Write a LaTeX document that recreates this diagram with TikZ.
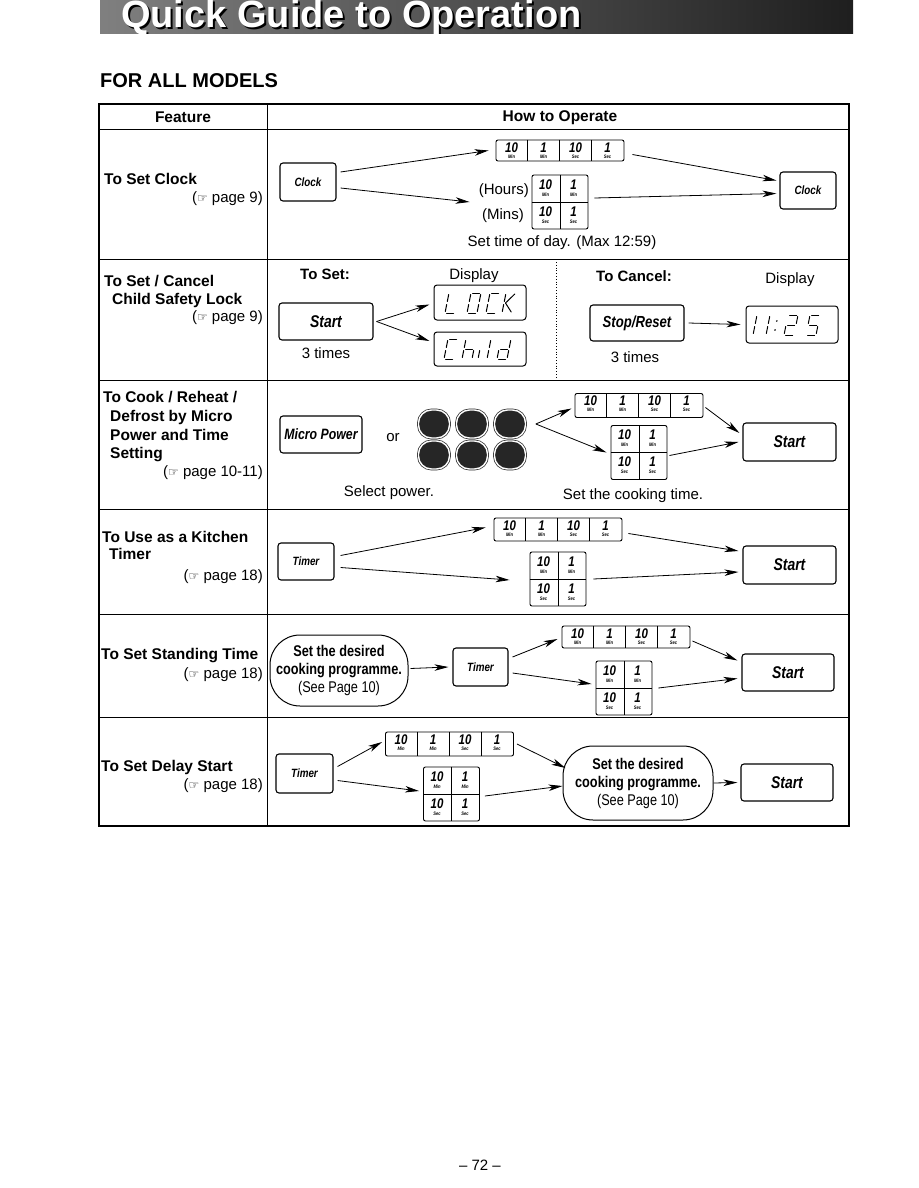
\documentclass[tikz,border=0pt]{standalone}
\usepackage{fontspec}
\setmainfont{Liberation Sans}
\newfontfamily\cond[FakeStretch=0.82]{Liberation Sans}
\newfontfamily\symf{DejaVu Sans}
\usetikzlibrary{arrows.meta,calc}
\newcommand\btnf[1]{\cond\bfseries\itshape\fontsize{#1}{#1}\selectfont}
\newcommand\pg{{\symf\fontsize{12}{12}\selectfont ☞}}
\newcommand\fourcell[4]{% name, cx, cy, height
  \node[cellbox, minimum width=128pt, minimum height=#4pt] (#1) at (#2,#3) {};
  \foreach \k in {1,2,3} \draw[celldiv] ($(#1.north west)+(32*\k,0)$) -- ($(#1.south west)+(32*\k,0)$);
  \foreach \n/\l [count=\k] in {10/Min,1/Min,10/Sec,1/Sec} {
    \node[dig] (#1-d\k) at ($(#1.north west)+(32*\k-16,8)$) {\n};
    \node[lab] (#1-l\k) at ($(#1.north west)+(32*\k-16,17)$) {\l};
  }
}
\newcommand\twocell[3]{% name, cx, cy
  \node[cellbox, minimum width=56pt, minimum height=54pt] (#1) at (#2,#3) {};
  \draw[celldiv] (#1.north) -- (#1.south);
  \draw[celldiv] (#1.west) -- (#1.east);
  \foreach \n/\l/\cx/\cy [count=\k] in {10/Min/14/10,1/Min/42/10,10/Sec/14/37,1/Sec/42/37} {
    \node[dig] (#1-d\k) at ($(#1.north west)+(\cx,\cy)$) {\n};
    \node[lab] (#1-l\k) at ($(#1.north west)+(\cx,\cy+10)$) {\l};
  }
}
\newcommand\sevseg[3]{% x, baseline y, segments
  \begin{scope}[shift={(#1,#2)}, xslant=0.2]
    \foreach \s in {#3}{%
      \if a\s \draw[segl] (1.5,-20)--(8.5,-20);\fi
      \if b\s \draw[segl] (10,-18.5)--(10,-11.5);\fi
      \if c\s \draw[segl] (10,-8.5)--(10,-1.5);\fi
      \if d\s \draw[segl] (1.5,0)--(8.5,0);\fi
      \if e\s \draw[segl] (0,-8.5)--(0,-1.5);\fi
      \if f\s \draw[segl] (0,-18.5)--(0,-11.5);\fi
      \if g\s \draw[segl] (1.5,-10)--(8.5,-10);\fi
      \if u\s \draw[segl] (1.5,-10)--(9,-19);\fi
      \if v\s \draw[segl] (1.5,-10)--(9,-1);\fi
      \if p\s \fill (2,-5) circle (0.9); \fill (2,-14) circle (0.9);\fi
    }
  \end{scope}}
\begin{document}
\begin{tikzpicture}[x=1pt,y=-1pt,
  titlef/.style={anchor=base west, inner sep=0, font=\fontsize{38}{38}\selectfont\bfseries},
  hdr/.style={inner sep=0, font=\fontsize{15.5}{18}\selectfont\bfseries},
  feat/.style={anchor=base west, inner sep=0, font=\fontsize{15.5}{18}\selectfont\bfseries},
  pref/.style={anchor=base east, inner sep=0, font=\fontsize{15}{18}\selectfont},
  body/.style={inner sep=0, font=\fontsize{15}{18}\selectfont},
  bodyb/.style={inner sep=0, font=\fontsize{15}{18}\selectfont\bfseries},
  btn/.style={draw, line width=1.1pt, rounded corners=3pt, inner sep=0pt},
  cellbox/.style={draw, line width=0.9pt, rounded corners=2pt, inner sep=0pt},
  celldiv/.style={line width=0.6pt},
  dig/.style={inner sep=0, font=\btnf{14}},
  lab/.style={inner sep=0, font=\btnf{5}},
  arr/.style={line width=0.8pt, -{Stealth[length=14pt,width=6.5pt,inset=4pt]}},
  segl/.style={line width=1pt, line cap=round},
  disp/.style={draw, line width=1pt, rounded corners=3pt, inner sep=0},
  ovl/.style={draw, line width=1pt, rounded corners=30pt, inner sep=0, align=center,
    font=\cond\fontsize{15.5}{18}\selectfont},
  dark/.style={draw=black!85, fill=black!85, line width=0.7pt, double=white, double distance=1.4pt,
    rounded corners=13pt, minimum width=31pt, minimum height=28pt, inner sep=0}
]
\useasboundingbox (0,0) rectangle (918,1188);

% ---------- banner ----------
\begin{scope}
  \clip (100,0) rectangle (853,34);
  \shade[left color=black!50, middle color=black!62, right color=black!88] (100,0) rectangle (853,34);
  \node[titlef, text=black] (tshadow) at (123,30) {Quick Guide to Operation};
  \node[titlef, text=white] (title) at (121,28) {Quick Guide to Operation};
\end{scope}

\node[anchor=base west, inner sep=0, font=\fontsize{20}{20}\selectfont\bfseries] (models) at (100,88) {FOR ALL MODELS};

% ---------- table ----------
\draw[line width=1.3pt] (99,104) rectangle (849,826);
\draw[line width=1pt] (267,104) -- (267,826);
\foreach \yy in {130,259,380,509,614,717} \draw[line width=1pt] (99,\yy) -- (849,\yy);

\node[hdr] (hfeat) at (183,117) {Feature};
\node[hdr] (hhow) at (560,118) {How to Operate};

% feature column
\node[feat] (f1) at (104,184) {To Set Clock};
\node[pref] (r1) at (263,202) {(\pg\ page 9)};
\node[feat] (f2a) at (104,286) {To Set / Cancel};
\node[feat] (f2b) at (112,304) {Child Safety Lock};
\node[pref] (r2) at (263,321) {(\pg\ page 9)};
\node[feat] (f3a) at (103,402) {To Cook / Reheat /};
\node[feat] (f3b) at (110,421) {Defrost by Micro};
\node[feat] (f3c) at (110,440) {Power and Time};
\node[feat] (f3d) at (110,458) {Setting};
\node[pref] (r3) at (263,476) {(\pg\ page 10-11)};
\node[feat] (f4a) at (102,542) {To Use as a Kitchen};
\node[feat] (f4b) at (109,559) {Timer};
\node[pref] (r4) at (263,580) {(\pg\ page 18)};
\node[feat] (f5) at (101,659) {To Set Standing Time};
\node[pref] (r5) at (263,678) {(\pg\ page 18)};
\node[feat] (f6) at (101,771) {To Set Delay Start};
\node[pref] (r6) at (263,789) {(\pg\ page 18)};

% ---------- row 1 : clock ----------
\node[btn, minimum width=56pt, minimum height=38pt, font=\btnf{12}] (clockA) at (308,182) {Clock};
\fourcell{top4a}{560}{150.5}{21}
\twocell{grid2a}{560}{202}
\node[btn, minimum width=56pt, minimum height=37pt, font=\btnf{12}] (clockB) at (808,190.5) {Clock};
\node[body, anchor=base east] (hours) at (529,194) {(Hours)};
\node[body, anchor=base east] (mins) at (524,219) {(Mins)};
\draw[arr] ($(clockA.east)+(4,-10)$) -- ($(top4a.west)+(-7,0)$);
\draw[arr] ($(clockA.east)+(4,6)$) -- ($(grid2a.west)+(-62,0)$);
\draw[arr] ($(top4a.east)+(8,4)$) -- ($(clockB.west)+(-3,-10)$);
\draw[arr] ($(grid2a.east)+(6,-4)$) -- ($(clockB.west)+(-3,3)$);
\node[body] (settime) at (562,243) {Set time of day. (Max 12:59)};

% ---------- row 2 : child lock ----------
\node[bodyb, anchor=base west] (toset) at (300,279) {To Set:};
\node[body, anchor=base] (disp1) at (474,279) {Display};
\draw[dotted, line width=0.8pt] (556,262) -- (556,378);
\node[btn, minimum width=94pt, minimum height=37pt, font=\btnf{17}] (startA) at (326,321.5) {Start};
\node[body] (times1) at (326,353) {3 times};
\node[disp, minimum width=92pt, minimum height=35pt] (lockD) at (480,302.5) {};
\node[disp, minimum width=92pt, minimum height=34pt] (childD) at (480,349) {};
\sevseg{445}{313}{f,e,d}
\sevseg{467}{313}{a,b,c,d,e,f}
\sevseg{486}{313}{a,f,e,d}
\sevseg{502}{313}{f,e,u,v}
\sevseg{444}{359}{a,f,e,d}
\sevseg{462}{359}{f,e,g,c}
\sevseg{478}{359}{e}
\sevseg{487}{359}{f,e}
\sevseg{497}{359}{b,c,d,e,g}
\coordinate (brA) at ($(startA.east)+(3,0)$);
\draw[arr] (brA) -- ($(lockD.west)+(-4,2)$);
\draw[arr] (brA) -- ($(childD.west)+(-4,-8)$);
\node[bodyb, anchor=base west] (tocancel) at (596,281) {To Cancel:};
\node[body, anchor=base] (disp2) at (790,283) {Display};
\node[btn, minimum width=94pt, minimum height=36pt, font=\btnf{16}] (stopR) at (637,323) {Stop/Reset};
\node[body] (times2) at (635,357) {3 times};
\node[disp, minimum width=92pt, minimum height=37pt] (timeD) at (792,324.5) {};
\sevseg{743}{335}{b,c}
\sevseg{756}{335}{b,c}
\sevseg{772}{335}{p}
\sevseg{784}{335}{a,b,g,e,d}
\sevseg{806}{335}{a,f,g,c,d}
\draw[arr] ($(stopR.east)+(4,0)$) -- ($(timeD.west)+(-5,0)$);

% ---------- row 3 : micro power ----------
\node[btn, minimum width=82pt, minimum height=37pt, font=\btnf{15}] (micro) at (321,434.5) {Micro Power};
\node[body] (or) at (393,438) {or};
\node[dark] (pw1) at (434,424) {};
\node[dark] (pw2) at (472,424) {};
\node[dark] (pw3) at (510,424) {};
\node[dark] (pw4) at (434,455) {};
\node[dark] (pw5) at (472,455) {};
\node[dark] (pw6) at (510,455) {};
\fourcell{top4b}{639}{405.5}{24}
\twocell{grid2b}{639}{452.5}
\node[btn, minimum width=93pt, minimum height=38pt, font=\btnf{17}] (startB) at (789.5,442) {Start};
\coordinate (brB) at ($(pw3.east)+(10,0)$);
\draw[arr] (brB) -- ($(top4b.west)+(-3,3)$);
\draw[arr] (brB) -- ($(grid2b.west)+(-4,0)$);
\draw[arr] ($(top4b.east)+(2,2)$) -- ($(startB.west)+(-3,-9)$);
\draw[arr] ($(grid2b.east)+(2,3)$) -- ($(startB.west)+(-4,0)$);
\node[body] (selpow) at (389,493) {Select power.};
\node[body] (setcook) at (633,496) {Set the cooking time.};

% ---------- row 4 : kitchen timer ----------
\node[btn, minimum width=56pt, minimum height=37pt, font=\btnf{12}] (timerA) at (306,561.5) {Timer};
\fourcell{top4c}{558}{529.5}{23}
\twocell{grid2c}{558}{579}
\node[btn, minimum width=93pt, minimum height=38pt, font=\btnf{17}] (startC) at (789.5,565) {Start};
\draw[arr] ($(timerA.east)+(6,-6)$) -- ($(top4c.west)+(-8,-2)$);
\draw[arr] ($(timerA.east)+(6,6)$) -- ($(grid2c.west)+(-20,1)$);
\draw[arr] ($(top4c.east)+(6,4)$) -- ($(startC.west)+(-4,-14)$);
\draw[arr] ($(grid2c.east)+(7,0)$) -- ($(startC.west)+(-4,7)$);

% ---------- row 5 : standing time ----------
\node[ovl, minimum width=138pt, minimum height=71pt] (ovalA) at (339,670.5)
  {{\bfseries Set the desired}\\{\bfseries cooking programme.}\\(See Page 10)};
\node[btn, minimum width=55pt, minimum height=38pt, font=\btnf{12}] (timerB) at (480.5,667) {Timer};
\fourcell{top4d}{626}{637}{22}
\twocell{grid2d}{624}{688}
\node[btn, minimum width=92pt, minimum height=37pt, font=\btnf{17}] (startD) at (788,672.5) {Start};
\draw[arr] ($(ovalA.east)+(2,-2)$) -- ($(timerB.west)+(-4,0)$);
\draw[arr] ($(timerB.east)+(4,-10)$) -- ($(top4d.west)+(-4,2)$);
\draw[arr] ($(timerB.east)+(4,6)$) -- ($(grid2d.west)+(-4,-4)$);
\draw[arr] ($(top4d.east)+(2,4)$) -- ($(startD.west)+(-4,-12)$);
\draw[arr] ($(grid2d.east)+(6,0)$) -- ($(startD.west)+(-4,6)$);

% ---------- row 6 : delay start ----------
\node[btn, minimum width=57pt, minimum height=39pt, font=\btnf{12}] (timerC) at (304.5,773.5) {Timer};
\fourcell{top4e}{449.5}{744}{24}
\twocell{grid2e}{451.5}{794}
\node[ovl, minimum width=150pt, minimum height=74pt] (ovalB) at (638,783)
  {{\bfseries Set the desired}\\{\bfseries cooking programme.}\\(See Page 10)};
\node[btn, minimum width=92pt, minimum height=37pt, font=\btnf{17}] (startE) at (787,782.5) {Start};
\draw[arr] ($(timerC.east)+(4,-7)$) -- ($(top4e.west)+(-3,-2)$);
\draw[arr] ($(timerC.east)+(4,7)$) -- ($(grid2e.west)+(-4,-3)$);
\draw[arr] ($(top4e.east)+(3,0)$) -- ($(ovalB.west)+(3,-15)$);
\draw[arr] ($(grid2e.east)+(5,2)$) -- ($(ovalB.west)+(0,3)$);
\draw[arr] (ovalB.east) -- ($(startE.west)+(-3,0)$);

% footer
\node[body] (pageno) at (480,1165) {– 72 –};
\end{tikzpicture}
\end{document}
